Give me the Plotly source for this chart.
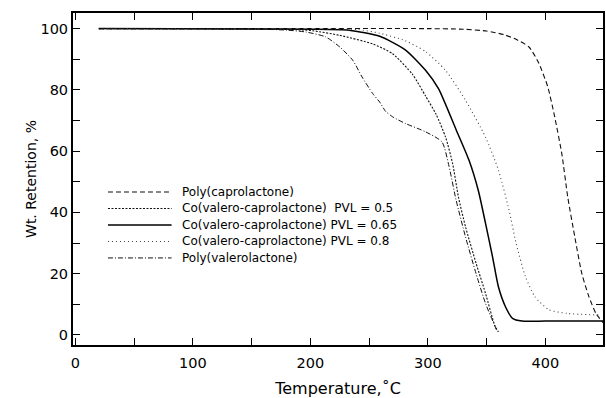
import plotly.graph_objects as go

# ---- data ----
cap_T = [20, 150, 300, 330, 350, 365, 375, 386, 394, 402, 408, 414, 419, 425, 431, 437, 443, 449]
cap_W = [100, 100, 100, 99.8, 99.2, 98.0, 96.5, 94.0, 89.0, 81.0, 71.0, 59.0, 45.0, 32.0, 20.0, 12.5, 7.0, 4.0]

p05_T = [20, 150, 180, 202, 225, 253, 270, 287, 298, 307, 315, 321, 326, 332, 341, 349, 357, 360]
p05_W = [100, 99.9, 99.8, 99.3, 97.8, 95.0, 91.8, 85.0, 78.0, 72.0, 64.6, 56.0, 45.0, 35.3, 23.4, 13.6, 3.0, 1.0]

p065_T = [20, 150, 200, 233, 259, 281, 298, 309, 324, 335, 343, 349, 355, 360, 366, 372, 380, 400, 449]
p065_W = [100, 99.9, 99.8, 99.5, 97.5, 93.0, 86.4, 80.4, 67.0, 57.0, 47.0, 36.5, 25.5, 15.7, 9.2, 5.4, 4.5, 4.5, 4.5]

p08_T = [20, 150, 240, 259, 281, 298, 315, 332, 349, 360, 369, 375, 383, 391, 403, 419, 445]
p08_W = [100, 99.9, 99.7, 98.5, 96.0, 92.5, 86.4, 76.6, 64.6, 53.8, 40.8, 30.0, 19.0, 12.5, 8.2, 7.0, 6.5]

val_T = [20, 150, 180, 196, 213, 225, 236, 244, 253, 259, 264, 270, 281, 298, 312, 318, 324, 332, 341, 349, 356, 359]
val_W = [100, 99.9, 99.5, 98.9, 97.3, 94.0, 89.7, 84.2, 78.8, 76.0, 73.0, 71.2, 69.0, 66.3, 63.0, 55.0, 44.0, 32.0, 20.0, 10.3, 3.8, 1.0]

names = [
    "Poly(caprolactone)",
    "Co(valero-caprolactone)\u00a0\u00a0PVL = 0.5",
    "Co(valero-caprolactone) PVL = 0.65",
    "Co(valero-caprolactone) PVL = 0.8",
    "Poly(valerolactone)",
]
series = [(cap_T, cap_W), (p05_T, p05_W), (p065_T, p065_W), (p08_T, p08_W), (val_T, val_W)]
styles = [
    dict(color="#111", width=1.1, dash="5px,3px"),
    dict(color="#111", width=1.1, dash="2px,1.5px"),
    dict(color="#000", width=1.5, dash="solid"),
    dict(color="#444", width=1.1, dash="1px,3px"),
    dict(color="#111", width=1.0, dash="5px,2px,1px,2px"),
]

x_ticks = list(range(0, 451, 50))
x_labels = [str(v) if v % 100 == 0 else "" for v in x_ticks]
y_ticks = list(range(0, 101, 10))
y_labels = [str(v) if v % 20 == 0 else "" for v in y_ticks]

fig = go.Figure()
for (t, w), nm, st in zip(series, names, styles):
    fig.add_trace(go.Scatter(x=t, y=w, mode="lines", name=nm, line=dict(shape="spline", smoothing=0.6, **st),
                             showlegend=False))

# manual legend (layout decoration)
leg_x0, leg_x1, txt_x = 0.066, 0.186, 0.201
row0, drow = 0.461, 0.0497
shapes = []
annotations = []
for i, (nm, st) in enumerate(zip(names, styles)):
    yy = row0 - i * drow
    shapes.append(dict(type="line", xref="paper", yref="paper", x0=leg_x0, x1=leg_x1, y0=yy, y1=yy,
                       line=st))
    annotations.append(dict(xref="paper", yref="paper", x=txt_x, y=yy, text=nm, showarrow=False,
                            xanchor="left", yanchor="middle",
                            font=dict(family="DejaVu Sans", size=12, color="#000")))

axis_common = dict(showline=True, linecolor="#000", linewidth=2, mirror="ticks", ticks="inside",
                   ticklen=7, tickwidth=1, tickcolor="#000", showgrid=False, zeroline=False,
                   tickfont=dict(family="DejaVu Sans", size=14.5, color="#000"))

fig.update_layout(
    width=606, height=398,
    margin=dict(l=73, r=1, t=13, b=53),
    paper_bgcolor="white", plot_bgcolor="white",
    shapes=shapes, annotations=annotations,
    xaxis=dict(range=[-2, 449], tickmode="array", tickvals=x_ticks, ticktext=x_labels,
               ticklabelstandoff=4,
               title=dict(text="Temperature,\u02daC", font=dict(family="DejaVu Sans", size=16, color="#000"),
                          standoff=12),
               **axis_common),
    yaxis=dict(range=[-3.3, 105.1], tickmode="array", tickvals=y_ticks, ticktext=y_labels,
               title=dict(text="Wt. Retention, %", font=dict(family="DejaVu Sans", size=14, color="#000"),
                          standoff=1),
               **axis_common),
)

fig.write_html("out.html")
